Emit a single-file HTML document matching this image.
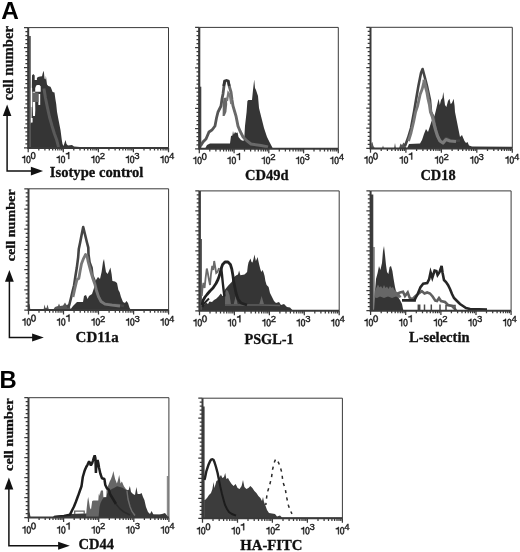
<!DOCTYPE html>
<html><head><meta charset="utf-8"><title>Figure</title>
<style>
html,body{margin:0;padding:0;background:#fff;}
body{width:520px;height:552px;overflow:hidden;font-family:"Liberation Sans",sans-serif;}
svg{display:block;will-change:transform;opacity:0.999;filter:blur(0.35px)}
.tk{font-family:"Liberation Sans",sans-serif;fill:#1a1a1a;stroke:#1a1a1a;stroke-width:0.4px;}
.dg{fill:#1a1a1a;stroke:#1a1a1a;stroke-width:0.4px;}
.lb{font-family:"Liberation Serif",serif;font-weight:bold;fill:#111;stroke:#111;stroke-width:0.3px;}
.pl{font-family:"Liberation Sans",sans-serif;font-weight:bold;fill:#000;}
</style></head><body>
<svg width="520" height="552" viewBox="0 0 520 552">
<rect width="520" height="552" fill="#fff"/>
<text x="1.2" y="18.9" class="pl" font-size="24.2" textLength="17.6" lengthAdjust="spacingAndGlyphs">A</text>
<text x="-0.4" y="388" class="pl" font-size="23" textLength="17.2" lengthAdjust="spacingAndGlyphs">B</text>
<rect x="27.7" y="36" width="3.1" height="112.0" fill="#555"/>
<polygon points="30.5,148.0 30.5,124.0 31.5,122.0 31.8,88.0 32.0,75.5 33.2,74.0 34.7,75.5 34.7,80.0 36.9,80.0 36.9,78.0 38.0,77.0 40.0,76.5 42.0,76.3 42.8,73.0 43.4,70.7 44.0,73.0 44.5,78.5 45.5,79.5 45.9,75.8 46.4,80.0 47.0,84.5 48.3,86.0 50.5,86.7 51.5,89.0 52.6,92.0 54.5,92.6 55.3,98.6 56.2,104.0 57.0,111.7 58.6,120.3 60.5,130.0 61.8,140.0 62.5,144.0 63.5,146.0 64.5,143.0 65.5,140.0 66.5,144.0 68.0,145.5 72.0,145.0 74.0,146.5 80.0,147.0 80.0,148.0" fill="#353535" />
<polygon points="35.2,88.0 36.2,85.6 37.5,85.0 39.5,85.0 40.7,86.5 40.7,91.8 35.2,91.8" fill="#fff" />
<polygon points="32.6,91.8 35.2,91.8 35.2,103.0 35.3,110.0 35.0,116.0 33.0,116.0 32.6,104.0" fill="#fff" />
<polygon points="38.4,94.0 40.2,94.0 40.2,105.0 38.4,105.0" fill="#fff" />
<polygon points="30.9,118.0 32.6,118.0 32.6,122.5 30.9,122.5" fill="#fff" />
<polygon points="30.9,87.7 32.1,87.7 32.1,107.0 30.9,107.0" fill="#fff" />
<polygon points="32.5,92.6 38.5,92.6 38.5,102.0 32.5,102.0" fill="#646464" />
<polyline points="43.9,88.5 45.5,98.0 47.4,107.4 49.5,117.0 52.1,126.2 54.5,134.0 56.8,140.3 58.5,147.0" fill="none" stroke="#5a5a5a" stroke-width="3.0" stroke-linejoin="round"/>
<rect x="198.4" y="27.5" width="1.6" height="121.3" fill="#3a3a3a"/>
<rect x="200.0" y="86.7" width="1.3" height="62.1" fill="#444"/>
<polygon points="205.0,148.8 207.0,145.0 210.0,143.6 230.0,143.6 231.0,136.0 232.4,135.5 233.0,131.0 233.8,134.5 235.0,132.0 236.0,133.0 237.6,132.5 238.5,137.0 241.0,140.0 243.5,141.0 244.4,136.0 245.0,126.0 246.6,112.0 247.4,101.0 248.4,100.0 252.0,100.0 253.0,90.0 254.2,79.5 255.0,88.0 256.0,90.0 258.0,96.0 259.0,108.0 262.0,120.0 264.0,128.0 267.0,137.0 270.0,143.0 273.0,148.8" fill="#353535" />
<polyline points="228.0,81.0 229.5,87.0 231.0,92.0 232.0,100.0 233.0,106.0 236.0,116.0 238.0,126.0 240.0,131.0 243.0,137.0 247.0,141.0 251.0,144.0 261.0,145.5 268.0,147.0" fill="none" stroke="#696969" stroke-width="2.9" stroke-linejoin="miter" />
<polyline points="200.5,146.0 203.0,142.0 206.0,139.0 209.0,132.0 212.0,130.0 215.0,126.0 216.5,118.0 218.0,112.0 221.0,106.0 222.0,99.0 223.0,94.0 224.0,86.0 225.0,81.0" fill="none" stroke="#555" stroke-width="2.8" stroke-linejoin="miter" />
<polygon points="222.6,116.0 222.8,104.0 223.4,98.0 226.8,97.5 227.2,104.0 226.4,112.0 224.6,116.0" fill="#686868" />
<polyline points="227.0,101.0 228.3,93.0 229.8,95.0 231.3,104.0" fill="none" stroke="#7a7a7a" stroke-width="2.2" stroke-linejoin="miter" />
<polyline points="223.6,86.0 224.6,81.0 226.5,80.3 228.3,81.0 229.3,86.0" fill="none" stroke="#333" stroke-width="2.6" stroke-linejoin="miter" />
<polygon points="371.0,148.4 371.4,143.0 372.4,142.0 373.4,146.0 375.0,148.4" fill="#555" />
<polygon points="382.0,148.4 383.0,145.6 384.0,148.4" fill="#555" />
<polygon points="394.0,148.4 395.0,143.0 396.0,148.4" fill="#555" />
<polygon points="399.0,148.4 400.5,143.5 402.0,145.0 403.5,142.5 405.0,144.0 406.5,148.4" fill="#555" />
<polygon points="407.0,148.4 409.0,144.0 420.0,143.5 422.0,140.0 424.0,134.0 426.0,129.0 428.0,132.0 430.0,126.0 431.6,121.0 434.0,118.0 436.0,110.0 437.6,103.0 438.6,98.8 439.8,105.0 441.0,100.0 442.4,98.0 443.3,92.0 444.2,99.0 445.0,105.0 446.4,107.0 448.0,101.0 449.5,98.8 450.6,104.0 452.0,103.0 453.6,98.8 454.6,106.0 455.0,112.0 457.0,122.0 458.4,129.0 460.0,137.0 462.0,135.0 463.2,138.0 464.5,141.0 466.0,143.0 467.5,142.0 469.0,145.5 472.0,146.5 512.0,146.8 512.0,148.4" fill="#353535" />
<polyline points="405.0,146.0 408.0,138.0 411.0,128.0 414.0,112.0 416.0,100.0 418.4,86.0 421.0,73.0 422.6,69.0 424.2,75.0 425.5,80.0 427.0,86.0 430.0,100.0 431.0,112.0 434.0,118.0 435.0,126.0 437.0,134.0 439.0,140.0 443.0,142.0 446.0,138.0 450.0,140.0 454.0,141.0 460.0,140.5" fill="none" stroke="#444" stroke-width="2.6" stroke-linejoin="round"/>
<polyline points="424.0,79.5 425.4,86.0 427.0,92.0 428.2,99.0 429.6,105.0 430.6,112.0 432.5,117.0 434.0,124.0 435.6,130.0 437.5,136.0 440.0,141.0 443.0,143.0 446.0,139.5 450.0,141.0 456.0,141.5" fill="none" stroke="#7a7a7a" stroke-width="3.2" stroke-linejoin="round"/>
<polyline points="408.5,141.0 411.0,133.0 413.6,122.0 415.6,112.0 417.5,106.4 420.2,94.3 422.2,89.0 424.2,80.8" fill="none" stroke="#777" stroke-width="2.8" stroke-linejoin="round"/>
<polygon points="28.5,310.0 28.8,304.5 29.6,304.0 30.4,310.0" fill="#555" />
<polygon points="43.5,310.0 44.5,304.5 45.5,308.0 46.5,308.0 47.5,304.5 49.0,310.0" fill="#555" />
<polygon points="53.0,310.0 55.0,307.0 58.0,306.0 59.0,303.5 60.0,306.0 63.0,305.5 65.0,302.5 66.5,305.0 69.0,304.0 71.0,310.0" fill="#555" />
<polygon points="70.0,310.0 73.0,306.0 77.0,302.0 83.0,302.0 84.0,296.0 86.0,295.0 87.6,299.0 89.0,296.0 92.0,294.0 94.0,288.0 96.0,280.0 98.0,277.0 100.0,279.0 101.6,272.0 103.0,262.0 104.0,259.0 105.0,266.0 106.0,272.0 107.6,274.0 109.0,271.0 110.4,267.6 111.6,274.0 112.4,281.0 115.0,281.6 117.0,283.0 118.4,290.0 119.6,292.0 121.0,297.0 123.0,302.0 125.0,303.0 126.4,301.0 128.0,303.0 129.6,308.0 131.0,310.0" fill="#353535" />
<polyline points="67.0,307.0 69.0,306.0 71.0,298.0 72.1,293.3 74.1,285.3 75.5,275.8 76.8,267.8 78.2,257.0 78.8,248.9 80.2,242.2 81.5,235.5 83.2,227.0 84.9,234.0 86.9,242.2 88.3,247.6 88.5,254.3 89.6,262.4 91.6,267.8 92.5,275.8 94.3,279.9 95.7,285.3 97.0,291.0 98.4,296.0 101.0,301.0 104.0,303.6 110.0,304.4 118.0,305.0 124.0,306.0" fill="none" stroke="#444" stroke-width="2.6" stroke-linejoin="round"/>
<polyline points="73.0,297.0 75.0,288.0 77.0,279.5 78.8,278.5 80.2,270.5 81.5,263.7 83.6,258.3 85.6,254.5 87.2,257.0 88.2,262.0 89.8,268.0 91.2,273.0 93.0,279.0 94.8,284.0 96.4,290.5 98.4,296.5 101.0,301.5 105.0,304.2 112.0,305.2 120.0,306.0" fill="none" stroke="#777" stroke-width="2.8" stroke-linejoin="round"/>
<rect x="198.8" y="191" width="2.0" height="119.7" fill="#3a3a3a"/>
<rect x="200.8" y="239" width="1.0" height="71.7" fill="#3a3a3a"/>
<polyline points="201.8,296.0 202.5,288.0 203.4,283.0 204.6,288.0 205.6,278.0 206.8,268.5 207.8,273.0 208.8,279.0 210.0,285.0 211.0,274.0 212.2,266.0 213.2,270.0 214.2,261.0 215.2,267.0 216.2,273.0 217.5,272.0 219.0,268.0" fill="none" stroke="#6a6a6a" stroke-width="1.8" stroke-linejoin="miter" />
<polygon points="201.6,310.7 201.6,304.0 204.0,305.0 206.0,302.5 208.0,304.0 209.5,301.5 212.0,302.0 214.0,300.0 216.2,298.8 218.5,296.5 220.9,293.5 222.5,296.0 224.0,296.0 225.0,289.4 228.3,285.4 231.7,282.0 233.7,277.3 236.4,275.3 238.0,274.5 239.1,270.6 240.4,275.3 244.5,274.6 247.1,272.0 247.8,266.0 248.5,262.5 250.5,258.5 251.5,262.0 252.5,262.5 253.5,259.0 254.5,254.4 255.2,258.0 255.9,261.0 256.8,259.0 257.6,257.0 258.4,261.0 259.3,265.0 260.3,269.0 261.3,272.0 262.6,270.0 263.6,272.5 264.6,276.0 265.4,281.0 266.6,285.0 268.6,287.0 270.0,293.0 272.0,297.0 274.0,301.0 276.0,303.0 279.0,302.0 281.0,305.0 284.0,304.0 287.0,307.0 290.0,307.6 293.0,310.7" fill="#353535" />
<polygon points="225.0,304.2 225.2,293.0 226.5,289.8 228.0,291.0 229.5,295.0 231.0,304.2" fill="#666" />
<polygon points="233.7,304.2 235.7,296.0 237.7,304.2" fill="#666" />
<polygon points="259.3,304.2 261.6,296.0 264.0,304.2" fill="#666" />
<polyline points="225.0,305.0 260.0,305.0 280.0,305.5" fill="none" stroke="#5e5e5e" stroke-width="1.6" stroke-linejoin="miter" />
<polyline points="202.0,305.0 203.0,300.5 205.0,297.0 207.0,294.5 210.0,291.0 213.0,288.0 216.0,283.5 218.0,279.5 219.6,275.0 221.0,269.0 222.6,264.5 225.0,262.0 228.0,262.0 230.4,264.5 231.8,269.0 233.0,276.0 233.6,281.0 234.6,286.0 236.0,293.0 238.0,299.0 241.0,303.0 247.0,305.0" fill="none" stroke="#222" stroke-width="2.8" stroke-linejoin="round"/>
<polyline points="221.2,268.0 222.0,275.0 222.8,283.0 223.6,290.0 224.4,296.5" fill="none" stroke="#222" stroke-width="2.4" stroke-linejoin="miter" />
<polyline points="202.5,307.0 204.0,303.5 206.5,301.0 209.0,298.5" fill="none" stroke="#222" stroke-width="2.0" stroke-linejoin="miter" />
<rect x="370.2" y="194.5" width="3.1" height="116.2" fill="#3e3e3e"/>
<rect x="373.3" y="247" width="1.3" height="63.7" fill="#5a5a5a"/>
<polygon points="374.0,310.7 375.0,291.0 376.0,279.0 377.6,273.0 379.0,266.0 380.4,270.0 382.0,263.0 383.0,251.0 384.0,246.0 385.0,255.0 386.0,265.0 387.0,272.0 388.4,274.0 389.6,267.0 391.0,266.0 392.4,271.0 393.6,279.0 395.0,287.0 396.4,293.0 398.0,297.0 400.0,300.0 402.0,304.0 403.0,309.0 403.6,310.7" fill="#353535" />
<polygon points="374.5,297.5 374.8,291.0 376.5,287.5 378.0,284.5 379.5,287.5 381.0,286.0 382.5,288.5 384.0,285.0 385.5,288.0 387.0,286.5 388.5,289.0 390.0,286.0 391.5,288.0 393.0,287.0 394.5,290.0 396.0,291.0 398.0,293.5 400.0,294.5 401.5,297.0 399.0,298.0 396.0,296.5 392.0,298.0 388.0,296.5 384.0,298.0 380.0,296.5 377.0,298.0" fill="#676767" />
<polyline points="397.0,293.8 400.0,292.5 403.0,291.8 405.0,296.0 407.7,292.5 409.7,297.9 412.4,299.2 415.1,296.5 418.0,294.0 421.8,291.1 424.5,293.5 427.2,292.5 430.0,293.5 432.6,296.5 435.3,300.6 437.0,301.0 439.0,298.0 441.0,301.0 445.0,302.0 448.0,305.0 452.0,306.0 455.0,309.0 456.0,310.7" fill="none" stroke="#606060" stroke-width="2.6" stroke-linejoin="miter" />
<polyline points="402.0,300.5 416.0,300.8" fill="none" stroke="#555" stroke-width="1.8" stroke-linejoin="miter" />
<polyline points="418.3,304.5 418.3,310.7" fill="none" stroke="#4a4a4a" stroke-width="1.5" stroke-linejoin="miter" />
<polyline points="419.7,304.5 419.7,310.7" fill="none" stroke="#4a4a4a" stroke-width="1.5" stroke-linejoin="miter" />
<polyline points="424.5,304.5 424.5,310.7" fill="none" stroke="#4a4a4a" stroke-width="1.5" stroke-linejoin="miter" />
<polyline points="431.3,304.5 431.3,310.7" fill="none" stroke="#4a4a4a" stroke-width="1.5" stroke-linejoin="miter" />
<polyline points="440.0,304.5 440.0,310.7" fill="none" stroke="#4a4a4a" stroke-width="1.5" stroke-linejoin="miter" />
<polyline points="446.0,310.7 446.0,305.5 455.0,305.5 455.0,310.7" fill="none" stroke="#555" stroke-width="1.6" stroke-linejoin="miter" />
<polyline points="402.0,300.2 414.5,300.2 416.3,296.5 417.8,293.8 420.5,287.1 423.2,283.7 427.2,283.0 429.2,279.0 430.6,272.3 432.3,277.7 434.6,270.5 436.4,271.0 437.6,275.0 439.6,272.0 441.6,266.0 442.6,273.0 444.0,280.0 446.0,282.0 448.0,285.0 450.0,289.0 452.0,294.0 454.0,298.0 457.0,301.0 460.0,304.0 463.0,306.0 466.0,308.0 470.0,309.0 487.0,309.5" fill="none" stroke="#262626" stroke-width="2.6" stroke-linejoin="miter" />
<rect x="166.8" y="476" width="1.4" height="41.4" fill="#8c8c8c"/>
<polygon points="28.5,517.5 28.8,511.5 29.7,513.0 30.6,517.5" fill="#444" />
<polygon points="52.0,517.5 54.0,516.0 60.0,515.6 66.0,515.0 70.0,514.0 84.0,513.6 100.0,513.5 135.0,514.0 150.0,514.2 166.0,514.5 168.0,517.5" fill="#3a3a3a" />
<polygon points="86.0,517.4 86.6,509.0 87.6,500.0 88.2,497.0 88.9,501.0 90.0,508.0 91.0,509.5 92.2,501.0 93.5,500.5 96.0,500.5 98.3,500.5 98.7,495.0 99.1,493.0 99.6,496.0 100.5,492.0 101.0,490.4 103.0,490.4 103.4,497.0 106.4,497.0 106.6,489.0 108.0,486.0 109.7,481.6 111.0,479.0 112.4,475.0 113.4,470.9 114.2,475.0 115.1,479.0 116.9,483.6 118.0,480.0 119.2,474.9 119.9,479.0 120.5,483.6 121.9,481.6 123.9,486.3 125.9,489.0 127.9,490.4 128.0,500.0 130.0,507.0 132.0,512.0 135.0,516.0 135.0,517.4" fill="#666" />
<polyline points="74.7,514.0 74.7,511.2 84.2,511.2 84.2,514.0" fill="none" stroke="#666" stroke-width="1.3" stroke-linejoin="miter" />
<polygon points="98.5,517.4 99.5,507.0 100.5,503.0 102.0,500.0 103.4,498.0 106.4,497.5 107.0,494.0 109.0,491.5 111.8,489.0 114.0,488.0 117.1,486.3 122.5,487.7 126.6,490.4 128.6,490.0 129.9,486.0 131.0,492.0 133.0,494.0 135.0,495.0 136.4,487.0 137.6,494.0 140.0,494.0 141.6,493.0 143.0,497.0 144.4,500.0 146.0,507.0 148.0,512.0 150.0,514.0 151.6,511.0 153.6,515.0 158.0,515.6 162.0,514.0 165.0,513.0 166.4,515.0 168.0,517.4" fill="#383838" />
<polyline points="127.0,491.0 128.0,499.0 130.0,506.5 132.0,511.5 135.0,515.5" fill="none" stroke="#6e6e6e" stroke-width="1.4" stroke-linejoin="miter" />
<polyline points="54.0,517.0 64.0,516.0 70.0,514.6 72.0,510.5 74.0,506.5 76.0,501.5 78.1,495.8 79.8,491.0 81.5,486.3 82.8,477.0 84.8,470.2 86.2,467.0 87.5,464.8 89.1,461.4 90.0,463.0 90.9,465.5 92.0,463.5 92.9,460.8 93.8,458.0 94.7,455.4 95.4,458.0 95.9,472.9 96.5,464.0 97.6,460.0 98.3,463.0 99.0,467.5 100.3,473.5 102.0,478.3 104.4,479.0 105.3,485.0 107.0,488.4 109.0,489.7 110.0,494.0 113.0,499.0 116.0,504.0" fill="none" stroke="#1e1e1e" stroke-width="2.5" stroke-linejoin="bevel"/>
<polyline points="116.0,504.0 120.0,509.0 124.0,512.0 130.0,515.0" fill="none" stroke="#2a2a2a" stroke-width="1.6" stroke-linejoin="miter" />
<rect x="201.8" y="406.5" width="2.8" height="111.8" fill="#3c3c3c"/>
<polygon points="204.2,518.9 204.2,500.0 205.0,500.0 207.0,498.0 209.0,495.0 211.0,493.0 212.4,489.0 213.6,482.0 214.4,488.0 215.6,484.0 216.4,481.0 218.0,480.0 219.6,477.0 221.0,475.0 222.4,478.0 224.0,477.0 225.2,473.0 226.4,479.0 228.0,478.0 229.6,481.0 231.6,484.0 233.6,486.0 235.6,484.0 237.6,488.0 239.6,489.0 241.6,486.0 243.0,480.0 244.4,487.0 246.4,489.0 248.4,488.0 250.4,486.0 252.4,488.0 254.4,491.0 256.4,493.0 258.4,496.0 260.4,498.0 262.0,501.0 263.0,497.0 264.0,502.0 265.6,506.0 267.0,510.0 269.0,513.0 272.0,513.6 275.0,514.0 277.0,516.4 280.0,515.6 282.0,517.6 342.4,517.6 342.4,518.9" fill="#3c3c3c" />
<polyline points="204.4,480.0 205.0,478.0 206.4,471.0 208.4,465.0 210.2,461.0 211.3,459.6 212.4,459.2 213.5,459.8 214.4,462.0 216.0,467.0 217.6,473.0 219.0,480.0" fill="none" stroke="#222" stroke-width="2.4" stroke-linejoin="miter" />
<polyline points="219.0,480.0 220.4,487.0 222.0,494.0 223.6,500.0 225.0,505.0 227.0,509.0 229.0,512.0 232.0,514.0 236.0,515.6" fill="none" stroke="#1c1c1c" stroke-width="2.0" stroke-linejoin="miter" />
<polyline points="265.8,505.0 266.2,501.0 267.2,493.0 269.5,485.7 271.5,477.6 272.6,469.5 273.8,464.0 274.9,460.8 275.8,459.0 277.2,460.0 278.9,463.5 280.4,467.5 281.9,472.9 282.8,481.6 285.3,489.0 286.6,497.1 288.4,505.2 290.0,510.0 292.0,513.8" fill="none" stroke="#2a2a2a" stroke-width="1.5" stroke-linejoin="miter" stroke-dasharray="3.2 4.2" stroke-dashoffset="1"/>
<path d="M28.2,27.6H168.5V147.9" fill="none" stroke="#3a3a3a" stroke-width="1"/>
<path d="M28.2,27.6V147.9H168.5" fill="none" stroke="#3a3a3a" stroke-width="2.0"/>
<path d="M24.0,147.9H28.2M25.4,143.9H28.2M25.4,139.9H28.2M25.4,135.9H28.2M25.4,131.9H28.2M24.0,127.9H28.2M25.4,123.8H28.2M25.4,119.8H28.2M25.4,115.8H28.2M25.4,111.8H28.2M24.0,107.8H28.2M25.4,103.8H28.2M25.4,99.8H28.2M25.4,95.8H28.2M25.4,91.8H28.2M24.0,87.8H28.2M25.4,83.7H28.2M25.4,79.7H28.2M25.4,75.7H28.2M25.4,71.7H28.2M24.0,67.7H28.2M25.4,63.7H28.2M25.4,59.7H28.2M25.4,55.7H28.2M25.4,51.7H28.2M24.0,47.6H28.2M25.4,43.6H28.2M25.4,39.6H28.2M25.4,35.6H28.2M25.4,31.6H28.2M24.0,27.6H28.2" stroke="#3a3a3a" stroke-width="1.25" fill="none"/>
<path d="M28.2,147.9v4.4M38.8,147.9v2.6M44.9,147.9v2.6M49.3,147.9v2.6M52.7,147.9v2.6M55.5,147.9v2.6M57.8,147.9v2.6M59.9,147.9v2.6M61.7,147.9v2.6M63.3,147.9v4.4M73.8,147.9v2.6M80.0,147.9v2.6M84.4,147.9v2.6M87.8,147.9v2.6M90.6,147.9v2.6M92.9,147.9v2.6M95.0,147.9v2.6M96.7,147.9v2.6M98.4,147.9v4.4M108.9,147.9v2.6M115.1,147.9v2.6M119.5,147.9v2.6M122.9,147.9v2.6M125.6,147.9v2.6M128.0,147.9v2.6M130.0,147.9v2.6M131.8,147.9v2.6M133.4,147.9v4.4M144.0,147.9v2.6M150.2,147.9v2.6M154.5,147.9v2.6M157.9,147.9v2.6M160.7,147.9v2.6M163.1,147.9v2.6M165.1,147.9v2.6M166.9,147.9v2.6M168.5,147.9v4.4" stroke="#3a3a3a" stroke-width="1.25" fill="none"/>
<g transform="translate(21.21,163.1) scale(0.87,1.04)" class="dg"><path d="M3.59,0V-4.95H1.02V-5.63Q3.3,-5.7 3.78,-7.09H4.47V0Z"/><path transform="translate(5.56,0)" d="M2.78,-7.09A2.35,3.63 0 1 0 2.78,0.17A2.35,3.63 0 1 0 2.78,-7.09ZM2.78,-6.36A1.45,2.9 0 1 1 2.78,-0.56A1.45,2.9 0 1 1 2.78,-6.36Z" fill-rule="evenodd"/></g>
<g transform="translate(30.47,159.0) scale(0.97)" class="dg"><path d="M2.78,-7.09A2.35,3.63 0 1 0 2.78,0.17A2.35,3.63 0 1 0 2.78,-7.09ZM2.78,-6.36A1.45,2.9 0 1 1 2.78,-0.56A1.45,2.9 0 1 1 2.78,-6.36Z" fill-rule="evenodd"/></g>
<g transform="translate(55.79,163.1) scale(0.87,1.04)" class="dg"><path d="M3.59,0V-4.95H1.02V-5.63Q3.3,-5.7 3.78,-7.09H4.47V0Z"/><path transform="translate(5.56,0)" d="M2.78,-7.09A2.35,3.63 0 1 0 2.78,0.17A2.35,3.63 0 1 0 2.78,-7.09ZM2.78,-6.36A1.45,2.9 0 1 1 2.78,-0.56A1.45,2.9 0 1 1 2.78,-6.36Z" fill-rule="evenodd"/></g>
<g transform="translate(64.88,159.0) scale(0.97)" class="dg"><path d="M3.59,0V-4.95H1.02V-5.63Q3.3,-5.7 3.78,-7.09H4.47V0Z"/></g>
<g transform="translate(90.36,163.1) scale(0.87,1.04)" class="dg"><path d="M3.59,0V-4.95H1.02V-5.63Q3.3,-5.7 3.78,-7.09H4.47V0Z"/><path transform="translate(5.56,0)" d="M2.78,-7.09A2.35,3.63 0 1 0 2.78,0.17A2.35,3.63 0 1 0 2.78,-7.09ZM2.78,-6.36A1.45,2.9 0 1 1 2.78,-0.56A1.45,2.9 0 1 1 2.78,-6.36Z" fill-rule="evenodd"/></g>
<text transform="translate(99.8,159.0) scale(0.25)" class="tk" style="stroke-width:1.4px" font-size="38.4">2</text>
<g transform="translate(124.94,163.1) scale(0.87,1.04)" class="dg"><path d="M3.59,0V-4.95H1.02V-5.63Q3.3,-5.7 3.78,-7.09H4.47V0Z"/><path transform="translate(5.56,0)" d="M2.78,-7.09A2.35,3.63 0 1 0 2.78,0.17A2.35,3.63 0 1 0 2.78,-7.09ZM2.78,-6.36A1.45,2.9 0 1 1 2.78,-0.56A1.45,2.9 0 1 1 2.78,-6.36Z" fill-rule="evenodd"/></g>
<text transform="translate(134.3,159.0) scale(0.25)" class="tk" style="stroke-width:1.4px" font-size="38.4">3</text>
<g transform="translate(159.51,163.1) scale(0.87,1.04)" class="dg"><path d="M3.59,0V-4.95H1.02V-5.63Q3.3,-5.7 3.78,-7.09H4.47V0Z"/><path transform="translate(5.56,0)" d="M2.78,-7.09A2.35,3.63 0 1 0 2.78,0.17A2.35,3.63 0 1 0 2.78,-7.09ZM2.78,-6.36A1.45,2.9 0 1 1 2.78,-0.56A1.45,2.9 0 1 1 2.78,-6.36Z" fill-rule="evenodd"/></g>
<text transform="translate(168.9,159.0) scale(0.25)" class="tk" style="stroke-width:1.4px" font-size="38.4">4</text>
<path d="M199.3,27.4H338.3V148.8" fill="none" stroke="#3a3a3a" stroke-width="1"/>
<path d="M199.3,27.4V148.8H338.3" fill="none" stroke="#3a3a3a" stroke-width="2.0"/>
<path d="M195.1,148.8H199.3M196.5,144.8H199.3M196.5,140.7H199.3M196.5,136.7H199.3M196.5,132.6H199.3M195.1,128.6H199.3M196.5,124.5H199.3M196.5,120.5H199.3M196.5,116.4H199.3M196.5,112.4H199.3M195.1,108.3H199.3M196.5,104.3H199.3M196.5,100.2H199.3M196.5,96.2H199.3M196.5,92.1H199.3M195.1,88.1H199.3M196.5,84.1H199.3M196.5,80.0H199.3M196.5,76.0H199.3M196.5,71.9H199.3M195.1,67.9H199.3M196.5,63.8H199.3M196.5,59.8H199.3M196.5,55.7H199.3M196.5,51.7H199.3M195.1,47.6H199.3M196.5,43.6H199.3M196.5,39.5H199.3M196.5,35.5H199.3M196.5,31.4H199.3M195.1,27.4H199.3" stroke="#3a3a3a" stroke-width="1.25" fill="none"/>
<path d="M199.3,148.8v4.4M209.8,148.8v2.6M215.9,148.8v2.6M220.2,148.8v2.6M223.6,148.8v2.6M226.3,148.8v2.6M228.7,148.8v2.6M230.7,148.8v2.6M232.5,148.8v2.6M234.1,148.8v4.4M244.5,148.8v2.6M250.6,148.8v2.6M255.0,148.8v2.6M258.3,148.8v2.6M261.1,148.8v2.6M263.4,148.8v2.6M265.4,148.8v2.6M267.2,148.8v2.6M268.8,148.8v4.4M279.3,148.8v2.6M285.4,148.8v2.6M289.7,148.8v2.6M293.1,148.8v2.6M295.8,148.8v2.6M298.2,148.8v2.6M300.2,148.8v2.6M302.0,148.8v2.6M303.6,148.8v4.4M314.0,148.8v2.6M320.1,148.8v2.6M324.5,148.8v2.6M327.8,148.8v2.6M330.6,148.8v2.6M332.9,148.8v2.6M334.9,148.8v2.6M336.7,148.8v2.6M338.3,148.8v4.4" stroke="#3a3a3a" stroke-width="1.25" fill="none"/>
<g transform="translate(192.31,164.0) scale(0.87,1.04)" class="dg"><path d="M3.59,0V-4.95H1.02V-5.63Q3.3,-5.7 3.78,-7.09H4.47V0Z"/><path transform="translate(5.56,0)" d="M2.78,-7.09A2.35,3.63 0 1 0 2.78,0.17A2.35,3.63 0 1 0 2.78,-7.09ZM2.78,-6.36A1.45,2.9 0 1 1 2.78,-0.56A1.45,2.9 0 1 1 2.78,-6.36Z" fill-rule="evenodd"/></g>
<g transform="translate(201.57,159.9) scale(0.97)" class="dg"><path d="M2.78,-7.09A2.35,3.63 0 1 0 2.78,0.17A2.35,3.63 0 1 0 2.78,-7.09ZM2.78,-6.36A1.45,2.9 0 1 1 2.78,-0.56A1.45,2.9 0 1 1 2.78,-6.36Z" fill-rule="evenodd"/></g>
<g transform="translate(226.56,164.0) scale(0.87,1.04)" class="dg"><path d="M3.59,0V-4.95H1.02V-5.63Q3.3,-5.7 3.78,-7.09H4.47V0Z"/><path transform="translate(5.56,0)" d="M2.78,-7.09A2.35,3.63 0 1 0 2.78,0.17A2.35,3.63 0 1 0 2.78,-7.09ZM2.78,-6.36A1.45,2.9 0 1 1 2.78,-0.56A1.45,2.9 0 1 1 2.78,-6.36Z" fill-rule="evenodd"/></g>
<g transform="translate(235.65,159.9) scale(0.97)" class="dg"><path d="M3.59,0V-4.95H1.02V-5.63Q3.3,-5.7 3.78,-7.09H4.47V0Z"/></g>
<g transform="translate(260.81,164.0) scale(0.87,1.04)" class="dg"><path d="M3.59,0V-4.95H1.02V-5.63Q3.3,-5.7 3.78,-7.09H4.47V0Z"/><path transform="translate(5.56,0)" d="M2.78,-7.09A2.35,3.63 0 1 0 2.78,0.17A2.35,3.63 0 1 0 2.78,-7.09ZM2.78,-6.36A1.45,2.9 0 1 1 2.78,-0.56A1.45,2.9 0 1 1 2.78,-6.36Z" fill-rule="evenodd"/></g>
<text transform="translate(270.2,159.9) scale(0.25)" class="tk" style="stroke-width:1.4px" font-size="38.4">2</text>
<g transform="translate(295.06,164.0) scale(0.87,1.04)" class="dg"><path d="M3.59,0V-4.95H1.02V-5.63Q3.3,-5.7 3.78,-7.09H4.47V0Z"/><path transform="translate(5.56,0)" d="M2.78,-7.09A2.35,3.63 0 1 0 2.78,0.17A2.35,3.63 0 1 0 2.78,-7.09ZM2.78,-6.36A1.45,2.9 0 1 1 2.78,-0.56A1.45,2.9 0 1 1 2.78,-6.36Z" fill-rule="evenodd"/></g>
<text transform="translate(304.4,159.9) scale(0.25)" class="tk" style="stroke-width:1.4px" font-size="38.4">3</text>
<g transform="translate(329.31,164.0) scale(0.87,1.04)" class="dg"><path d="M3.59,0V-4.95H1.02V-5.63Q3.3,-5.7 3.78,-7.09H4.47V0Z"/><path transform="translate(5.56,0)" d="M2.78,-7.09A2.35,3.63 0 1 0 2.78,0.17A2.35,3.63 0 1 0 2.78,-7.09ZM2.78,-6.36A1.45,2.9 0 1 1 2.78,-0.56A1.45,2.9 0 1 1 2.78,-6.36Z" fill-rule="evenodd"/></g>
<text transform="translate(338.7,159.9) scale(0.25)" class="tk" style="stroke-width:1.4px" font-size="38.4">4</text>
<path d="M370.5,27.3H512.3V148.4" fill="none" stroke="#3a3a3a" stroke-width="1"/>
<path d="M370.5,27.3V148.4H512.3" fill="none" stroke="#3a3a3a" stroke-width="2.0"/>
<path d="M366.3,148.4H370.5M367.7,144.4H370.5M367.7,140.3H370.5M367.7,136.3H370.5M367.7,132.3H370.5M366.3,128.2H370.5M367.7,124.2H370.5M367.7,120.1H370.5M367.7,116.1H370.5M367.7,112.1H370.5M366.3,108.0H370.5M367.7,104.0H370.5M367.7,100.0H370.5M367.7,95.9H370.5M367.7,91.9H370.5M366.3,87.8H370.5M367.7,83.8H370.5M367.7,79.8H370.5M367.7,75.7H370.5M367.7,71.7H370.5M366.3,67.7H370.5M367.7,63.6H370.5M367.7,59.6H370.5M367.7,55.6H370.5M367.7,51.5H370.5M366.3,47.5H370.5M367.7,43.4H370.5M367.7,39.4H370.5M367.7,35.4H370.5M367.7,31.3H370.5M366.3,27.3H370.5" stroke="#3a3a3a" stroke-width="1.25" fill="none"/>
<path d="M370.5,148.4v4.4M381.2,148.4v2.6M387.4,148.4v2.6M391.8,148.4v2.6M395.3,148.4v2.6M398.1,148.4v2.6M400.5,148.4v2.6M402.5,148.4v2.6M404.3,148.4v2.6M405.9,148.4v4.4M416.6,148.4v2.6M422.9,148.4v2.6M427.3,148.4v2.6M430.7,148.4v2.6M433.5,148.4v2.6M435.9,148.4v2.6M438.0,148.4v2.6M439.8,148.4v2.6M441.4,148.4v4.4M452.1,148.4v2.6M458.3,148.4v2.6M462.7,148.4v2.6M466.2,148.4v2.6M469.0,148.4v2.6M471.4,148.4v2.6M473.4,148.4v2.6M475.2,148.4v2.6M476.8,148.4v4.4M487.5,148.4v2.6M493.8,148.4v2.6M498.2,148.4v2.6M501.6,148.4v2.6M504.4,148.4v2.6M506.8,148.4v2.6M508.9,148.4v2.6M510.7,148.4v2.6M512.3,148.4v4.4" stroke="#3a3a3a" stroke-width="1.25" fill="none"/>
<g transform="translate(363.51,163.6) scale(0.87,1.04)" class="dg"><path d="M3.59,0V-4.95H1.02V-5.63Q3.3,-5.7 3.78,-7.09H4.47V0Z"/><path transform="translate(5.56,0)" d="M2.78,-7.09A2.35,3.63 0 1 0 2.78,0.17A2.35,3.63 0 1 0 2.78,-7.09ZM2.78,-6.36A1.45,2.9 0 1 1 2.78,-0.56A1.45,2.9 0 1 1 2.78,-6.36Z" fill-rule="evenodd"/></g>
<g transform="translate(372.77,159.5) scale(0.97)" class="dg"><path d="M2.78,-7.09A2.35,3.63 0 1 0 2.78,0.17A2.35,3.63 0 1 0 2.78,-7.09ZM2.78,-6.36A1.45,2.9 0 1 1 2.78,-0.56A1.45,2.9 0 1 1 2.78,-6.36Z" fill-rule="evenodd"/></g>
<g transform="translate(398.76,163.6) scale(0.87,1.04)" class="dg"><path d="M3.59,0V-4.95H1.02V-5.63Q3.3,-5.7 3.78,-7.09H4.47V0Z"/><path transform="translate(5.56,0)" d="M2.78,-7.09A2.35,3.63 0 1 0 2.78,0.17A2.35,3.63 0 1 0 2.78,-7.09ZM2.78,-6.36A1.45,2.9 0 1 1 2.78,-0.56A1.45,2.9 0 1 1 2.78,-6.36Z" fill-rule="evenodd"/></g>
<g transform="translate(407.85,159.5) scale(0.97)" class="dg"><path d="M3.59,0V-4.95H1.02V-5.63Q3.3,-5.7 3.78,-7.09H4.47V0Z"/></g>
<g transform="translate(434.01,163.6) scale(0.87,1.04)" class="dg"><path d="M3.59,0V-4.95H1.02V-5.63Q3.3,-5.7 3.78,-7.09H4.47V0Z"/><path transform="translate(5.56,0)" d="M2.78,-7.09A2.35,3.63 0 1 0 2.78,0.17A2.35,3.63 0 1 0 2.78,-7.09ZM2.78,-6.36A1.45,2.9 0 1 1 2.78,-0.56A1.45,2.9 0 1 1 2.78,-6.36Z" fill-rule="evenodd"/></g>
<text transform="translate(443.4,159.5) scale(0.25)" class="tk" style="stroke-width:1.4px" font-size="38.4">2</text>
<g transform="translate(469.26,163.6) scale(0.87,1.04)" class="dg"><path d="M3.59,0V-4.95H1.02V-5.63Q3.3,-5.7 3.78,-7.09H4.47V0Z"/><path transform="translate(5.56,0)" d="M2.78,-7.09A2.35,3.63 0 1 0 2.78,0.17A2.35,3.63 0 1 0 2.78,-7.09ZM2.78,-6.36A1.45,2.9 0 1 1 2.78,-0.56A1.45,2.9 0 1 1 2.78,-6.36Z" fill-rule="evenodd"/></g>
<text transform="translate(478.6,159.5) scale(0.25)" class="tk" style="stroke-width:1.4px" font-size="38.4">3</text>
<g transform="translate(504.51,163.6) scale(0.87,1.04)" class="dg"><path d="M3.59,0V-4.95H1.02V-5.63Q3.3,-5.7 3.78,-7.09H4.47V0Z"/><path transform="translate(5.56,0)" d="M2.78,-7.09A2.35,3.63 0 1 0 2.78,0.17A2.35,3.63 0 1 0 2.78,-7.09ZM2.78,-6.36A1.45,2.9 0 1 1 2.78,-0.56A1.45,2.9 0 1 1 2.78,-6.36Z" fill-rule="evenodd"/></g>
<text transform="translate(513.9,159.5) scale(0.25)" class="tk" style="stroke-width:1.4px" font-size="38.4">4</text>
<path d="M28.5,188.8H168.6V310.1" fill="none" stroke="#3a3a3a" stroke-width="1"/>
<path d="M28.5,188.8V310.1H168.6" fill="none" stroke="#3a3a3a" stroke-width="2.0"/>
<path d="M24.3,310.1H28.5M25.7,306.1H28.5M25.7,302.0H28.5M25.7,298.0H28.5M25.7,293.9H28.5M24.3,289.9H28.5M25.7,285.8H28.5M25.7,281.8H28.5M25.7,277.8H28.5M25.7,273.7H28.5M24.3,269.7H28.5M25.7,265.6H28.5M25.7,261.6H28.5M25.7,257.5H28.5M25.7,253.5H28.5M24.3,249.5H28.5M25.7,245.4H28.5M25.7,241.4H28.5M25.7,237.3H28.5M25.7,233.3H28.5M24.3,229.2H28.5M25.7,225.2H28.5M25.7,221.1H28.5M25.7,217.1H28.5M25.7,213.1H28.5M24.3,209.0H28.5M25.7,205.0H28.5M25.7,200.9H28.5M25.7,196.9H28.5M25.7,192.8H28.5M24.3,188.8H28.5" stroke="#3a3a3a" stroke-width="1.25" fill="none"/>
<path d="M28.5,310.1v4.4M39.0,310.1v2.6M45.2,310.1v2.6M49.6,310.1v2.6M53.0,310.1v2.6M55.8,310.1v2.6M58.1,310.1v2.6M60.1,310.1v2.6M61.9,310.1v2.6M63.5,310.1v4.4M74.1,310.1v2.6M80.2,310.1v2.6M84.6,310.1v2.6M88.0,310.1v2.6M90.8,310.1v2.6M93.1,310.1v2.6M95.2,310.1v2.6M96.9,310.1v2.6M98.5,310.1v4.4M109.1,310.1v2.6M115.3,310.1v2.6M119.6,310.1v2.6M123.0,310.1v2.6M125.8,310.1v2.6M128.1,310.1v2.6M130.2,310.1v2.6M132.0,310.1v2.6M133.6,310.1v4.4M144.1,310.1v2.6M150.3,310.1v2.6M154.7,310.1v2.6M158.1,310.1v2.6M160.8,310.1v2.6M163.2,310.1v2.6M165.2,310.1v2.6M167.0,310.1v2.6M168.6,310.1v4.4" stroke="#3a3a3a" stroke-width="1.25" fill="none"/>
<g transform="translate(21.51,325.6) scale(0.87,1.04)" class="dg"><path d="M3.59,0V-4.95H1.02V-5.63Q3.3,-5.7 3.78,-7.09H4.47V0Z"/><path transform="translate(5.56,0)" d="M2.78,-7.09A2.35,3.63 0 1 0 2.78,0.17A2.35,3.63 0 1 0 2.78,-7.09ZM2.78,-6.36A1.45,2.9 0 1 1 2.78,-0.56A1.45,2.9 0 1 1 2.78,-6.36Z" fill-rule="evenodd"/></g>
<g transform="translate(30.77,321.5) scale(0.97)" class="dg"><path d="M2.78,-7.09A2.35,3.63 0 1 0 2.78,0.17A2.35,3.63 0 1 0 2.78,-7.09ZM2.78,-6.36A1.45,2.9 0 1 1 2.78,-0.56A1.45,2.9 0 1 1 2.78,-6.36Z" fill-rule="evenodd"/></g>
<g transform="translate(56.04,325.6) scale(0.87,1.04)" class="dg"><path d="M3.59,0V-4.95H1.02V-5.63Q3.3,-5.7 3.78,-7.09H4.47V0Z"/><path transform="translate(5.56,0)" d="M2.78,-7.09A2.35,3.63 0 1 0 2.78,0.17A2.35,3.63 0 1 0 2.78,-7.09ZM2.78,-6.36A1.45,2.9 0 1 1 2.78,-0.56A1.45,2.9 0 1 1 2.78,-6.36Z" fill-rule="evenodd"/></g>
<g transform="translate(65.13,321.5) scale(0.97)" class="dg"><path d="M3.59,0V-4.95H1.02V-5.63Q3.3,-5.7 3.78,-7.09H4.47V0Z"/></g>
<g transform="translate(90.56,325.6) scale(0.87,1.04)" class="dg"><path d="M3.59,0V-4.95H1.02V-5.63Q3.3,-5.7 3.78,-7.09H4.47V0Z"/><path transform="translate(5.56,0)" d="M2.78,-7.09A2.35,3.63 0 1 0 2.78,0.17A2.35,3.63 0 1 0 2.78,-7.09ZM2.78,-6.36A1.45,2.9 0 1 1 2.78,-0.56A1.45,2.9 0 1 1 2.78,-6.36Z" fill-rule="evenodd"/></g>
<text transform="translate(100.0,321.5) scale(0.25)" class="tk" style="stroke-width:1.4px" font-size="38.4">2</text>
<g transform="translate(125.09,325.6) scale(0.87,1.04)" class="dg"><path d="M3.59,0V-4.95H1.02V-5.63Q3.3,-5.7 3.78,-7.09H4.47V0Z"/><path transform="translate(5.56,0)" d="M2.78,-7.09A2.35,3.63 0 1 0 2.78,0.17A2.35,3.63 0 1 0 2.78,-7.09ZM2.78,-6.36A1.45,2.9 0 1 1 2.78,-0.56A1.45,2.9 0 1 1 2.78,-6.36Z" fill-rule="evenodd"/></g>
<text transform="translate(134.5,321.5) scale(0.25)" class="tk" style="stroke-width:1.4px" font-size="38.4">3</text>
<g transform="translate(159.61,325.6) scale(0.87,1.04)" class="dg"><path d="M3.59,0V-4.95H1.02V-5.63Q3.3,-5.7 3.78,-7.09H4.47V0Z"/><path transform="translate(5.56,0)" d="M2.78,-7.09A2.35,3.63 0 1 0 2.78,0.17A2.35,3.63 0 1 0 2.78,-7.09ZM2.78,-6.36A1.45,2.9 0 1 1 2.78,-0.56A1.45,2.9 0 1 1 2.78,-6.36Z" fill-rule="evenodd"/></g>
<text transform="translate(169.0,321.5) scale(0.25)" class="tk" style="stroke-width:1.4px" font-size="38.4">4</text>
<path d="M199.5,190.9H339.2V310.8" fill="none" stroke="#3a3a3a" stroke-width="1"/>
<path d="M199.5,190.9V310.8H339.2" fill="none" stroke="#3a3a3a" stroke-width="2.0"/>
<path d="M195.3,310.8H199.5M196.7,306.8H199.5M196.7,302.8H199.5M196.7,298.8H199.5M196.7,294.8H199.5M195.3,290.8H199.5M196.7,286.8H199.5M196.7,282.8H199.5M196.7,278.8H199.5M196.7,274.8H199.5M195.3,270.8H199.5M196.7,266.8H199.5M196.7,262.8H199.5M196.7,258.8H199.5M196.7,254.8H199.5M195.3,250.9H199.5M196.7,246.9H199.5M196.7,242.9H199.5M196.7,238.9H199.5M196.7,234.9H199.5M195.3,230.9H199.5M196.7,226.9H199.5M196.7,222.9H199.5M196.7,218.9H199.5M196.7,214.9H199.5M195.3,210.9H199.5M196.7,206.9H199.5M196.7,202.9H199.5M196.7,198.9H199.5M196.7,194.9H199.5M195.3,190.9H199.5" stroke="#3a3a3a" stroke-width="1.25" fill="none"/>
<path d="M199.5,310.8v4.4M210.0,310.8v2.6M216.2,310.8v2.6M220.5,310.8v2.6M223.9,310.8v2.6M226.7,310.8v2.6M229.0,310.8v2.6M231.0,310.8v2.6M232.8,310.8v2.6M234.4,310.8v4.4M244.9,310.8v2.6M251.1,310.8v2.6M255.5,310.8v2.6M258.8,310.8v2.6M261.6,310.8v2.6M263.9,310.8v2.6M266.0,310.8v2.6M267.8,310.8v2.6M269.4,310.8v4.4M279.9,310.8v2.6M286.0,310.8v2.6M290.4,310.8v2.6M293.8,310.8v2.6M296.5,310.8v2.6M298.9,310.8v2.6M300.9,310.8v2.6M302.7,310.8v2.6M304.3,310.8v4.4M314.8,310.8v2.6M320.9,310.8v2.6M325.3,310.8v2.6M328.7,310.8v2.6M331.5,310.8v2.6M333.8,310.8v2.6M335.8,310.8v2.6M337.6,310.8v2.6M339.2,310.8v4.4" stroke="#3a3a3a" stroke-width="1.25" fill="none"/>
<g transform="translate(192.51,326.3) scale(0.87,1.04)" class="dg"><path d="M3.59,0V-4.95H1.02V-5.63Q3.3,-5.7 3.78,-7.09H4.47V0Z"/><path transform="translate(5.56,0)" d="M2.78,-7.09A2.35,3.63 0 1 0 2.78,0.17A2.35,3.63 0 1 0 2.78,-7.09ZM2.78,-6.36A1.45,2.9 0 1 1 2.78,-0.56A1.45,2.9 0 1 1 2.78,-6.36Z" fill-rule="evenodd"/></g>
<g transform="translate(201.77,322.2) scale(0.97)" class="dg"><path d="M2.78,-7.09A2.35,3.63 0 1 0 2.78,0.17A2.35,3.63 0 1 0 2.78,-7.09ZM2.78,-6.36A1.45,2.9 0 1 1 2.78,-0.56A1.45,2.9 0 1 1 2.78,-6.36Z" fill-rule="evenodd"/></g>
<g transform="translate(226.94,326.3) scale(0.87,1.04)" class="dg"><path d="M3.59,0V-4.95H1.02V-5.63Q3.3,-5.7 3.78,-7.09H4.47V0Z"/><path transform="translate(5.56,0)" d="M2.78,-7.09A2.35,3.63 0 1 0 2.78,0.17A2.35,3.63 0 1 0 2.78,-7.09ZM2.78,-6.36A1.45,2.9 0 1 1 2.78,-0.56A1.45,2.9 0 1 1 2.78,-6.36Z" fill-rule="evenodd"/></g>
<g transform="translate(236.03,322.2) scale(0.97)" class="dg"><path d="M3.59,0V-4.95H1.02V-5.63Q3.3,-5.7 3.78,-7.09H4.47V0Z"/></g>
<g transform="translate(261.36,326.3) scale(0.87,1.04)" class="dg"><path d="M3.59,0V-4.95H1.02V-5.63Q3.3,-5.7 3.78,-7.09H4.47V0Z"/><path transform="translate(5.56,0)" d="M2.78,-7.09A2.35,3.63 0 1 0 2.78,0.17A2.35,3.63 0 1 0 2.78,-7.09ZM2.78,-6.36A1.45,2.9 0 1 1 2.78,-0.56A1.45,2.9 0 1 1 2.78,-6.36Z" fill-rule="evenodd"/></g>
<text transform="translate(270.7,322.2) scale(0.25)" class="tk" style="stroke-width:1.4px" font-size="38.4">2</text>
<g transform="translate(295.79,326.3) scale(0.87,1.04)" class="dg"><path d="M3.59,0V-4.95H1.02V-5.63Q3.3,-5.7 3.78,-7.09H4.47V0Z"/><path transform="translate(5.56,0)" d="M2.78,-7.09A2.35,3.63 0 1 0 2.78,0.17A2.35,3.63 0 1 0 2.78,-7.09ZM2.78,-6.36A1.45,2.9 0 1 1 2.78,-0.56A1.45,2.9 0 1 1 2.78,-6.36Z" fill-rule="evenodd"/></g>
<text transform="translate(305.2,322.2) scale(0.25)" class="tk" style="stroke-width:1.4px" font-size="38.4">3</text>
<g transform="translate(330.21,326.3) scale(0.87,1.04)" class="dg"><path d="M3.59,0V-4.95H1.02V-5.63Q3.3,-5.7 3.78,-7.09H4.47V0Z"/><path transform="translate(5.56,0)" d="M2.78,-7.09A2.35,3.63 0 1 0 2.78,0.17A2.35,3.63 0 1 0 2.78,-7.09ZM2.78,-6.36A1.45,2.9 0 1 1 2.78,-0.56A1.45,2.9 0 1 1 2.78,-6.36Z" fill-rule="evenodd"/></g>
<text transform="translate(339.6,322.2) scale(0.25)" class="tk" style="stroke-width:1.4px" font-size="38.4">4</text>
<path d="M370.6,190.9H511.1V310.7" fill="none" stroke="#3a3a3a" stroke-width="1"/>
<path d="M370.6,190.9V310.7H511.1" fill="none" stroke="#3a3a3a" stroke-width="2.0"/>
<path d="M366.4,310.7H370.6M367.8,306.7H370.6M367.8,302.7H370.6M367.8,298.7H370.6M367.8,294.7H370.6M366.4,290.7H370.6M367.8,286.7H370.6M367.8,282.7H370.6M367.8,278.8H370.6M367.8,274.8H370.6M366.4,270.8H370.6M367.8,266.8H370.6M367.8,262.8H370.6M367.8,258.8H370.6M367.8,254.8H370.6M366.4,250.8H370.6M367.8,246.8H370.6M367.8,242.8H370.6M367.8,238.8H370.6M367.8,234.8H370.6M366.4,230.8H370.6M367.8,226.8H370.6M367.8,222.8H370.6M367.8,218.9H370.6M367.8,214.9H370.6M366.4,210.9H370.6M367.8,206.9H370.6M367.8,202.9H370.6M367.8,198.9H370.6M367.8,194.9H370.6M366.4,190.9H370.6" stroke="#3a3a3a" stroke-width="1.25" fill="none"/>
<path d="M370.6,310.7v4.4M381.2,310.7v2.6M387.4,310.7v2.6M391.7,310.7v2.6M395.2,310.7v2.6M397.9,310.7v2.6M400.3,310.7v2.6M402.3,310.7v2.6M404.1,310.7v2.6M405.7,310.7v4.4M416.3,310.7v2.6M422.5,310.7v2.6M426.9,310.7v2.6M430.3,310.7v2.6M433.1,310.7v2.6M435.4,310.7v2.6M437.4,310.7v2.6M439.2,310.7v2.6M440.9,310.7v4.4M451.4,310.7v2.6M457.6,310.7v2.6M462.0,310.7v2.6M465.4,310.7v2.6M468.2,310.7v2.6M470.5,310.7v2.6M472.6,310.7v2.6M474.4,310.7v2.6M476.0,310.7v4.4M486.5,310.7v2.6M492.7,310.7v2.6M497.1,310.7v2.6M500.5,310.7v2.6M503.3,310.7v2.6M505.7,310.7v2.6M507.7,310.7v2.6M509.5,310.7v2.6M511.1,310.7v4.4" stroke="#3a3a3a" stroke-width="1.25" fill="none"/>
<g transform="translate(363.61,326.2) scale(0.87,1.04)" class="dg"><path d="M3.59,0V-4.95H1.02V-5.63Q3.3,-5.7 3.78,-7.09H4.47V0Z"/><path transform="translate(5.56,0)" d="M2.78,-7.09A2.35,3.63 0 1 0 2.78,0.17A2.35,3.63 0 1 0 2.78,-7.09ZM2.78,-6.36A1.45,2.9 0 1 1 2.78,-0.56A1.45,2.9 0 1 1 2.78,-6.36Z" fill-rule="evenodd"/></g>
<g transform="translate(372.87,322.1) scale(0.97)" class="dg"><path d="M2.78,-7.09A2.35,3.63 0 1 0 2.78,0.17A2.35,3.63 0 1 0 2.78,-7.09ZM2.78,-6.36A1.45,2.9 0 1 1 2.78,-0.56A1.45,2.9 0 1 1 2.78,-6.36Z" fill-rule="evenodd"/></g>
<g transform="translate(398.24,326.2) scale(0.87,1.04)" class="dg"><path d="M3.59,0V-4.95H1.02V-5.63Q3.3,-5.7 3.78,-7.09H4.47V0Z"/><path transform="translate(5.56,0)" d="M2.78,-7.09A2.35,3.63 0 1 0 2.78,0.17A2.35,3.63 0 1 0 2.78,-7.09ZM2.78,-6.36A1.45,2.9 0 1 1 2.78,-0.56A1.45,2.9 0 1 1 2.78,-6.36Z" fill-rule="evenodd"/></g>
<g transform="translate(407.32,322.1) scale(0.97)" class="dg"><path d="M3.59,0V-4.95H1.02V-5.63Q3.3,-5.7 3.78,-7.09H4.47V0Z"/></g>
<g transform="translate(432.86,326.2) scale(0.87,1.04)" class="dg"><path d="M3.59,0V-4.95H1.02V-5.63Q3.3,-5.7 3.78,-7.09H4.47V0Z"/><path transform="translate(5.56,0)" d="M2.78,-7.09A2.35,3.63 0 1 0 2.78,0.17A2.35,3.63 0 1 0 2.78,-7.09ZM2.78,-6.36A1.45,2.9 0 1 1 2.78,-0.56A1.45,2.9 0 1 1 2.78,-6.36Z" fill-rule="evenodd"/></g>
<text transform="translate(442.2,322.1) scale(0.25)" class="tk" style="stroke-width:1.4px" font-size="38.4">2</text>
<g transform="translate(467.49,326.2) scale(0.87,1.04)" class="dg"><path d="M3.59,0V-4.95H1.02V-5.63Q3.3,-5.7 3.78,-7.09H4.47V0Z"/><path transform="translate(5.56,0)" d="M2.78,-7.09A2.35,3.63 0 1 0 2.78,0.17A2.35,3.63 0 1 0 2.78,-7.09ZM2.78,-6.36A1.45,2.9 0 1 1 2.78,-0.56A1.45,2.9 0 1 1 2.78,-6.36Z" fill-rule="evenodd"/></g>
<text transform="translate(476.9,322.1) scale(0.25)" class="tk" style="stroke-width:1.4px" font-size="38.4">3</text>
<g transform="translate(502.11,326.2) scale(0.87,1.04)" class="dg"><path d="M3.59,0V-4.95H1.02V-5.63Q3.3,-5.7 3.78,-7.09H4.47V0Z"/><path transform="translate(5.56,0)" d="M2.78,-7.09A2.35,3.63 0 1 0 2.78,0.17A2.35,3.63 0 1 0 2.78,-7.09ZM2.78,-6.36A1.45,2.9 0 1 1 2.78,-0.56A1.45,2.9 0 1 1 2.78,-6.36Z" fill-rule="evenodd"/></g>
<text transform="translate(511.5,322.1) scale(0.25)" class="tk" style="stroke-width:1.4px" font-size="38.4">4</text>
<path d="M28.5,397.7H168.9V517.5" fill="none" stroke="#3a3a3a" stroke-width="1"/>
<path d="M28.5,397.7V517.5H168.9" fill="none" stroke="#3a3a3a" stroke-width="2.0"/>
<path d="M24.3,517.5H28.5M25.7,513.5H28.5M25.7,509.5H28.5M25.7,505.5H28.5M25.7,501.5H28.5M24.3,497.5H28.5M25.7,493.5H28.5M25.7,489.5H28.5M25.7,485.6H28.5M25.7,481.6H28.5M24.3,477.6H28.5M25.7,473.6H28.5M25.7,469.6H28.5M25.7,465.6H28.5M25.7,461.6H28.5M24.3,457.6H28.5M25.7,453.6H28.5M25.7,449.6H28.5M25.7,445.6H28.5M25.7,441.6H28.5M24.3,437.6H28.5M25.7,433.6H28.5M25.7,429.6H28.5M25.7,425.7H28.5M25.7,421.7H28.5M24.3,417.7H28.5M25.7,413.7H28.5M25.7,409.7H28.5M25.7,405.7H28.5M25.7,401.7H28.5M24.3,397.7H28.5" stroke="#3a3a3a" stroke-width="1.25" fill="none"/>
<path d="M28.5,517.5v4.4M39.1,517.5v2.6M45.2,517.5v2.6M49.6,517.5v2.6M53.0,517.5v2.6M55.8,517.5v2.6M58.2,517.5v2.6M60.2,517.5v2.6M62.0,517.5v2.6M63.6,517.5v4.4M74.2,517.5v2.6M80.3,517.5v2.6M84.7,517.5v2.6M88.1,517.5v2.6M90.9,517.5v2.6M93.3,517.5v2.6M95.3,517.5v2.6M97.1,517.5v2.6M98.7,517.5v4.4M109.3,517.5v2.6M115.4,517.5v2.6M119.8,517.5v2.6M123.2,517.5v2.6M126.0,517.5v2.6M128.4,517.5v2.6M130.4,517.5v2.6M132.2,517.5v2.6M133.8,517.5v4.4M144.4,517.5v2.6M150.5,517.5v2.6M154.9,517.5v2.6M158.3,517.5v2.6M161.1,517.5v2.6M163.5,517.5v2.6M165.5,517.5v2.6M167.3,517.5v2.6M168.9,517.5v4.4" stroke="#3a3a3a" stroke-width="1.25" fill="none"/>
<g transform="translate(21.51,533.5) scale(0.87,1.04)" class="dg"><path d="M3.59,0V-4.95H1.02V-5.63Q3.3,-5.7 3.78,-7.09H4.47V0Z"/><path transform="translate(5.56,0)" d="M2.78,-7.09A2.35,3.63 0 1 0 2.78,0.17A2.35,3.63 0 1 0 2.78,-7.09ZM2.78,-6.36A1.45,2.9 0 1 1 2.78,-0.56A1.45,2.9 0 1 1 2.78,-6.36Z" fill-rule="evenodd"/></g>
<g transform="translate(30.77,529.4) scale(0.97)" class="dg"><path d="M2.78,-7.09A2.35,3.63 0 1 0 2.78,0.17A2.35,3.63 0 1 0 2.78,-7.09ZM2.78,-6.36A1.45,2.9 0 1 1 2.78,-0.56A1.45,2.9 0 1 1 2.78,-6.36Z" fill-rule="evenodd"/></g>
<g transform="translate(56.11,533.5) scale(0.87,1.04)" class="dg"><path d="M3.59,0V-4.95H1.02V-5.63Q3.3,-5.7 3.78,-7.09H4.47V0Z"/><path transform="translate(5.56,0)" d="M2.78,-7.09A2.35,3.63 0 1 0 2.78,0.17A2.35,3.63 0 1 0 2.78,-7.09ZM2.78,-6.36A1.45,2.9 0 1 1 2.78,-0.56A1.45,2.9 0 1 1 2.78,-6.36Z" fill-rule="evenodd"/></g>
<g transform="translate(65.20,529.4) scale(0.97)" class="dg"><path d="M3.59,0V-4.95H1.02V-5.63Q3.3,-5.7 3.78,-7.09H4.47V0Z"/></g>
<g transform="translate(90.71,533.5) scale(0.87,1.04)" class="dg"><path d="M3.59,0V-4.95H1.02V-5.63Q3.3,-5.7 3.78,-7.09H4.47V0Z"/><path transform="translate(5.56,0)" d="M2.78,-7.09A2.35,3.63 0 1 0 2.78,0.17A2.35,3.63 0 1 0 2.78,-7.09ZM2.78,-6.36A1.45,2.9 0 1 1 2.78,-0.56A1.45,2.9 0 1 1 2.78,-6.36Z" fill-rule="evenodd"/></g>
<text transform="translate(100.1,529.4) scale(0.25)" class="tk" style="stroke-width:1.4px" font-size="38.4">2</text>
<g transform="translate(125.31,533.5) scale(0.87,1.04)" class="dg"><path d="M3.59,0V-4.95H1.02V-5.63Q3.3,-5.7 3.78,-7.09H4.47V0Z"/><path transform="translate(5.56,0)" d="M2.78,-7.09A2.35,3.63 0 1 0 2.78,0.17A2.35,3.63 0 1 0 2.78,-7.09ZM2.78,-6.36A1.45,2.9 0 1 1 2.78,-0.56A1.45,2.9 0 1 1 2.78,-6.36Z" fill-rule="evenodd"/></g>
<text transform="translate(134.7,529.4) scale(0.25)" class="tk" style="stroke-width:1.4px" font-size="38.4">3</text>
<g transform="translate(159.91,533.5) scale(0.87,1.04)" class="dg"><path d="M3.59,0V-4.95H1.02V-5.63Q3.3,-5.7 3.78,-7.09H4.47V0Z"/><path transform="translate(5.56,0)" d="M2.78,-7.09A2.35,3.63 0 1 0 2.78,0.17A2.35,3.63 0 1 0 2.78,-7.09ZM2.78,-6.36A1.45,2.9 0 1 1 2.78,-0.56A1.45,2.9 0 1 1 2.78,-6.36Z" fill-rule="evenodd"/></g>
<text transform="translate(169.3,529.4) scale(0.25)" class="tk" style="stroke-width:1.4px" font-size="38.4">4</text>
<path d="M202.5,398.2H342.4V518.3" fill="none" stroke="#3a3a3a" stroke-width="1"/>
<path d="M202.5,398.2V518.3H342.4" fill="none" stroke="#3a3a3a" stroke-width="2.0"/>
<path d="M198.3,518.3H202.5M199.7,514.3H202.5M199.7,510.3H202.5M199.7,506.3H202.5M199.7,502.3H202.5M198.3,498.3H202.5M199.7,494.3H202.5M199.7,490.3H202.5M199.7,486.3H202.5M199.7,482.3H202.5M198.3,478.3H202.5M199.7,474.3H202.5M199.7,470.3H202.5M199.7,466.3H202.5M199.7,462.3H202.5M198.3,458.2H202.5M199.7,454.2H202.5M199.7,450.2H202.5M199.7,446.2H202.5M199.7,442.2H202.5M198.3,438.2H202.5M199.7,434.2H202.5M199.7,430.2H202.5M199.7,426.2H202.5M199.7,422.2H202.5M198.3,418.2H202.5M199.7,414.2H202.5M199.7,410.2H202.5M199.7,406.2H202.5M199.7,402.2H202.5M198.3,398.2H202.5" stroke="#3a3a3a" stroke-width="1.25" fill="none"/>
<path d="M202.5,518.3v4.4M213.0,518.3v2.6M219.2,518.3v2.6M223.6,518.3v2.6M226.9,518.3v2.6M229.7,518.3v2.6M232.1,518.3v2.6M234.1,518.3v2.6M235.9,518.3v2.6M237.5,518.3v4.4M248.0,518.3v2.6M254.2,518.3v2.6M258.5,518.3v2.6M261.9,518.3v2.6M264.7,518.3v2.6M267.0,518.3v2.6M269.1,518.3v2.6M270.8,518.3v2.6M272.4,518.3v4.4M283.0,518.3v2.6M289.1,518.3v2.6M293.5,518.3v2.6M296.9,518.3v2.6M299.7,518.3v2.6M302.0,518.3v2.6M304.0,518.3v2.6M305.8,518.3v2.6M307.4,518.3v4.4M318.0,518.3v2.6M324.1,518.3v2.6M328.5,518.3v2.6M331.9,518.3v2.6M334.6,518.3v2.6M337.0,518.3v2.6M339.0,518.3v2.6M340.8,518.3v2.6M342.4,518.3v4.4" stroke="#3a3a3a" stroke-width="1.25" fill="none"/>
<g transform="translate(196.01,534.3) scale(0.87,1.04)" class="dg"><path d="M3.59,0V-4.95H1.02V-5.63Q3.3,-5.7 3.78,-7.09H4.47V0Z"/><path transform="translate(5.56,0)" d="M2.78,-7.09A2.35,3.63 0 1 0 2.78,0.17A2.35,3.63 0 1 0 2.78,-7.09ZM2.78,-6.36A1.45,2.9 0 1 1 2.78,-0.56A1.45,2.9 0 1 1 2.78,-6.36Z" fill-rule="evenodd"/></g>
<g transform="translate(205.27,530.2) scale(0.97)" class="dg"><path d="M2.78,-7.09A2.35,3.63 0 1 0 2.78,0.17A2.35,3.63 0 1 0 2.78,-7.09ZM2.78,-6.36A1.45,2.9 0 1 1 2.78,-0.56A1.45,2.9 0 1 1 2.78,-6.36Z" fill-rule="evenodd"/></g>
<g transform="translate(230.74,534.3) scale(0.87,1.04)" class="dg"><path d="M3.59,0V-4.95H1.02V-5.63Q3.3,-5.7 3.78,-7.09H4.47V0Z"/><path transform="translate(5.56,0)" d="M2.78,-7.09A2.35,3.63 0 1 0 2.78,0.17A2.35,3.63 0 1 0 2.78,-7.09ZM2.78,-6.36A1.45,2.9 0 1 1 2.78,-0.56A1.45,2.9 0 1 1 2.78,-6.36Z" fill-rule="evenodd"/></g>
<g transform="translate(239.83,530.2) scale(0.97)" class="dg"><path d="M3.59,0V-4.95H1.02V-5.63Q3.3,-5.7 3.78,-7.09H4.47V0Z"/></g>
<g transform="translate(265.46,534.3) scale(0.87,1.04)" class="dg"><path d="M3.59,0V-4.95H1.02V-5.63Q3.3,-5.7 3.78,-7.09H4.47V0Z"/><path transform="translate(5.56,0)" d="M2.78,-7.09A2.35,3.63 0 1 0 2.78,0.17A2.35,3.63 0 1 0 2.78,-7.09ZM2.78,-6.36A1.45,2.9 0 1 1 2.78,-0.56A1.45,2.9 0 1 1 2.78,-6.36Z" fill-rule="evenodd"/></g>
<text transform="translate(274.8,530.2) scale(0.25)" class="tk" style="stroke-width:1.4px" font-size="38.4">2</text>
<g transform="translate(300.19,534.3) scale(0.87,1.04)" class="dg"><path d="M3.59,0V-4.95H1.02V-5.63Q3.3,-5.7 3.78,-7.09H4.47V0Z"/><path transform="translate(5.56,0)" d="M2.78,-7.09A2.35,3.63 0 1 0 2.78,0.17A2.35,3.63 0 1 0 2.78,-7.09ZM2.78,-6.36A1.45,2.9 0 1 1 2.78,-0.56A1.45,2.9 0 1 1 2.78,-6.36Z" fill-rule="evenodd"/></g>
<text transform="translate(309.6,530.2) scale(0.25)" class="tk" style="stroke-width:1.4px" font-size="38.4">3</text>
<g transform="translate(334.91,534.3) scale(0.87,1.04)" class="dg"><path d="M3.59,0V-4.95H1.02V-5.63Q3.3,-5.7 3.78,-7.09H4.47V0Z"/><path transform="translate(5.56,0)" d="M2.78,-7.09A2.35,3.63 0 1 0 2.78,0.17A2.35,3.63 0 1 0 2.78,-7.09ZM2.78,-6.36A1.45,2.9 0 1 1 2.78,-0.56A1.45,2.9 0 1 1 2.78,-6.36Z" fill-rule="evenodd"/></g>
<text transform="translate(344.3,530.2) scale(0.25)" class="tk" style="stroke-width:1.4px" font-size="38.4">4</text>
<text x="49.8" y="176.9" class="lb" font-size="14.6" textLength="93.6" lengthAdjust="spacingAndGlyphs">Isotype control</text>
<text x="245.0" y="179.5" class="lb" font-size="14.6" textLength="43.6" lengthAdjust="spacingAndGlyphs">CD49d</text>
<text x="420.4" y="180.2" class="lb" font-size="14.6" textLength="35.2" lengthAdjust="spacingAndGlyphs">CD18</text>
<text x="75.6" y="341.9" class="lb" font-size="14.6" textLength="43.2" lengthAdjust="spacingAndGlyphs">CD11a</text>
<text x="244.4" y="343.8" class="lb" font-size="14.6" textLength="49.4" lengthAdjust="spacingAndGlyphs">PSGL-1</text>
<text x="409.0" y="342.3" class="lb" font-size="14.6" textLength="60.5" lengthAdjust="spacingAndGlyphs">L-selectin</text>
<text x="78.5" y="549.4" class="lb" font-size="14.6" textLength="35.6" lengthAdjust="spacingAndGlyphs">CD44</text>
<text x="240.3" y="550.2" class="lb" font-size="14.6" textLength="62.2" lengthAdjust="spacingAndGlyphs">HA-FITC</text>
<text transform="translate(12.75,100.4) rotate(-90)" class="lb" font-size="14.1" textLength="74.3" lengthAdjust="spacingAndGlyphs">cell number</text>
<text transform="translate(14.5,261.2) rotate(-90)" class="lb" font-size="12.0" textLength="71.8" lengthAdjust="spacingAndGlyphs">cell number</text>
<text transform="translate(13.0,470.9) rotate(-90)" class="lb" font-size="12.7" textLength="72.5" lengthAdjust="spacingAndGlyphs">cell number</text>
<path d="M7.1,112.4V171.1H35.1" fill="none" stroke="#111" stroke-width="1.5"/>
<path d="M7.1,104.4l-4.3,11.6h8.6z" fill="#111"/>
<path d="M43.1,171.1l-12.2,-4.4v8.8z" fill="#111"/>
<path d="M9.4,278.0V337.5H35.8" fill="none" stroke="#111" stroke-width="1.5"/>
<path d="M9.4,270.0l-4.4,11.8h8.8z" fill="#111"/>
<path d="M43.8,337.5l-11.7,-4.0v8.0z" fill="#111"/>
<path d="M8.9,485.6V545.8H61.8" fill="none" stroke="#111" stroke-width="1.5"/>
<path d="M8.9,477.6l-4.4,11.8h8.8z" fill="#111"/>
<path d="M69.8,545.8l-11.7,-4.0v8.0z" fill="#111"/>
</svg>
</body></html>
